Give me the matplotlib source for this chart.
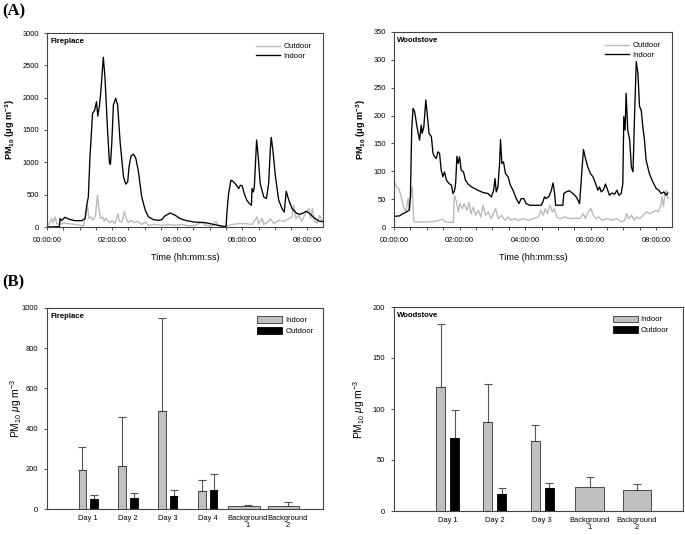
import matplotlib
matplotlib.use("Agg")
import matplotlib.pyplot as plt
from matplotlib.ticker import MultipleLocator, FuncFormatter
from matplotlib.patches import Patch

plt.rcParams['font.family'] = ['Liberation Sans', 'DejaVu Sans']
plt.rcParams['mathtext.fontset'] = 'custom'
plt.rcParams['mathtext.rm'] = 'Liberation Sans'
plt.rcParams['mathtext.bf'] = 'Liberation Sans:bold'
plt.rcParams['mathtext.it'] = 'Liberation Sans:italic'

# ---------------- (A) time series data (hours, PM10 ug/m3) ----------------
fp_in_t = [0, 0.38, 0.40, 0.45, 0.55, 0.71, 0.86, 1.07, 1.17, 1.22, 1.27, 1.32, 1.40,
           1.46, 1.52, 1.56, 1.61, 1.65, 1.73, 1.78, 1.86, 1.92, 1.95, 1.99, 2.04, 2.11,
           2.17, 2.25, 2.35, 2.42, 2.48, 2.52, 2.58, 2.66, 2.73, 2.81, 2.91, 3.02, 3.12,
           3.27, 3.43, 3.53, 3.61, 3.78, 3.94, 4.09, 4.25, 4.50, 4.86, 5.12, 5.45, 5.50,
           5.53, 5.58, 5.65, 5.73, 5.82, 5.89, 5.94, 6.00, 6.06, 6.14, 6.22, 6.28, 6.30,
           6.34, 6.37, 6.44, 6.49, 6.55, 6.66, 6.74, 6.81, 6.86, 6.89, 6.94, 7.02, 7.12,
           7.22, 7.29, 7.35, 7.43, 7.53, 7.68, 7.78, 7.87, 7.97, 8.05, 8.20, 8.35, 8.52]
fp_in_v = [0, 5, 130, 100, 150, 115, 98, 98, 130, 336, 465, 1085, 1757,
           1798, 1938, 1715, 1870, 2067, 2625, 2325, 1500, 982, 970, 1292, 1886, 1990,
           1886, 1292, 775, 662, 698, 930, 1096, 1127, 1060, 853, 465, 258, 155,
           114, 103, 114, 165, 217, 181, 130, 103, 78, 67, 40, 5, 5,
           233, 517, 724, 700, 646, 595, 646, 635, 517, 414, 362, 336, 595,
           543, 620, 1344, 1085, 672, 465, 440, 672, 1189, 1385, 1189, 775, 414,
           285, 233, 553, 414, 285, 207, 197, 217, 243, 217, 145, 93, 78]

fp_out_t = [0.0, 0.04, 0.14, 0.19, 0.25, 0.30, 0.40, 0.50, 0.66, 0.86, 1.02, 1.12, 1.19,
            1.24, 1.29, 1.35, 1.42, 1.49, 1.55, 1.60, 1.65, 1.71, 1.76, 1.81, 1.87, 1.94,
            2.00, 2.09, 2.18, 2.22, 2.30, 2.38, 2.43, 2.50, 2.58, 2.69, 2.79, 2.91, 3.02,
            3.12, 3.32, 3.53, 3.73, 3.94, 4.14, 4.35, 4.55, 4.76, 4.86, 5.07, 5.19, 5.27,
            5.53, 5.68, 5.89, 6.09, 6.30, 6.45, 6.50, 6.61, 6.66, 6.81, 6.86, 6.97, 7.12,
            7.28, 7.43, 7.53, 7.58, 7.65, 7.74, 7.82, 7.89, 7.96, 8.05, 8.10, 8.15, 8.23,
            8.30, 8.38, 8.46]
fp_out_v = [20, 26, 130, 66, 155, 52, 40, 62, 52, 40, 26, 16, 181,
            336, 130, 155, 103, 181, 491, 258, 130, 155, 88, 140, 88, 66,
            103, 52, 207, 88, 77, 243, 130, 66, 103, 66, 88, 40, 77,
            26, 40, 26, 40, 26, 40, 16, 26, 77, 26, 16, 88, 16,
            16, 40, 52, 52, 40, 155, 52, 130, 40, 88, 130, 52, 103,
            88, 130, 155, 336, 130, 181, 88, 155, 233, 284, 130, 284, 77,
            66, 181, 88]

ws_in_t = [0.0, 0.17, 0.27, 0.38, 0.46, 0.50, 0.54, 0.58, 0.63, 0.70, 0.78, 0.83, 0.86,
           0.91, 0.97, 1.00, 1.07, 1.14, 1.19, 1.24, 1.29, 1.34, 1.39, 1.44, 1.49, 1.54,
           1.60, 1.68, 1.75, 1.80, 1.85, 1.88, 1.92, 1.96, 2.00, 2.05, 2.12, 2.18, 2.26,
           2.36, 2.46, 2.56, 2.71, 2.87, 2.97, 3.04, 3.08, 3.12, 3.17, 3.22, 3.25, 3.29,
           3.34, 3.40, 3.48, 3.55, 3.63, 3.73, 3.81, 3.88, 3.96, 4.03, 4.14, 4.49, 4.54,
           4.59, 4.64, 4.73, 4.80, 4.85, 4.90, 4.93, 5.15, 5.18, 5.25, 5.35, 5.46, 5.56,
           5.66, 5.69, 5.74, 5.78, 5.84, 5.91, 5.99, 6.07, 6.15, 6.22, 6.27, 6.32, 6.39,
           6.45, 6.52, 6.57, 6.65, 6.73, 6.80, 6.86, 6.93, 6.98, 7.01, 7.05, 7.08, 7.13,
           7.19, 7.24, 7.29, 7.34, 7.39, 7.44, 7.49, 7.54, 7.59, 7.64, 7.69, 7.74, 7.79,
           7.85, 7.92, 8.00, 8.08, 8.15, 8.23, 8.30, 8.35]
ws_in_v = [19, 20, 24, 27, 30, 54, 174, 213, 207, 180, 156, 183, 168,
           180, 228, 210, 168, 162, 132, 126, 123, 135, 132, 102, 90, 99,
           84, 78, 75, 60, 66, 78, 127, 114, 126, 102, 99, 84, 77,
           72, 69, 66, 62, 60, 54, 66, 87, 63, 72, 114, 157, 114,
           117, 96, 90, 75, 66, 51, 42, 51, 51, 42, 39, 39, 45,
           54, 51, 55, 66, 79, 60, 39, 39, 60, 63, 65, 60, 54,
           42, 66, 108, 139, 123, 108, 96, 90, 78, 66, 72, 63, 67,
           77, 66, 57, 61, 59, 66, 57, 60, 78, 198, 174, 240, 174,
           156, 108, 99, 204, 297, 276, 216, 210, 180, 156, 120, 108, 96,
           87, 78, 69, 66, 60, 63, 57, 61]

ws_out_t = [0.0, 0.07, 0.15, 0.22, 0.29, 0.36, 0.43, 0.48, 0.53, 0.56, 0.60, 0.63, 0.69,
            0.95, 1.25, 1.50, 1.55, 1.81, 1.84, 1.91, 1.96, 2.01, 2.08, 2.14, 2.22, 2.29,
            2.35, 2.42, 2.49, 2.57, 2.65, 2.72, 2.79, 2.88, 2.96, 3.03, 3.10, 3.18, 3.28,
            3.38, 3.49, 3.57, 3.67, 3.79, 3.94, 4.10, 4.25, 4.40, 4.48, 4.55, 4.62, 4.68,
            4.76, 4.83, 4.89, 4.96, 5.06, 5.21, 5.37, 5.52, 5.67, 5.77, 5.84, 5.92, 6.01,
            6.08, 6.15, 6.25, 6.35, 6.48, 6.64, 6.79, 6.94, 7.04, 7.09, 7.16, 7.25, 7.33,
            7.40, 7.49, 7.60, 7.70, 7.80, 7.91, 8.01, 8.06, 8.14, 8.18, 8.22, 8.26, 8.31,
            8.36]
ws_out_v = [84, 72, 69, 54, 36, 27, 51, 30, 66, 72, 12, 9, 9,
            9, 10, 14, 9, 8, 57, 45, 27, 42, 33, 42, 30, 44,
            24, 36, 21, 30, 18, 39, 21, 27, 15, 24, 33, 15, 21,
            12, 18, 12, 15, 12, 15, 12, 15, 18, 30, 21, 33, 24,
            39, 27, 33, 18, 15, 18, 15, 16, 15, 24, 15, 27, 33,
            21, 15, 18, 12, 15, 12, 15, 9, 12, 24, 15, 21, 12,
            18, 15, 21, 27, 24, 27, 30, 27, 39, 54, 36, 57, 66,
            51]

# ---------------- (B) bar data ----------------
fp_cats = ["Day 1", "Day 2", "Day 3", "Day 4", "Background\n1", "Background\n2"]
fp_indoor = [195, 213, 490, 88, 15, 17]
fp_indoor_err = [113, 247, 458, 57, 7, 16]
fp_outdoor = [50, 55, 63, 95]
fp_outdoor_err = [18, 27, 34, 77]

ws_cats = ["Day 1", "Day 2", "Day 3", "Background\n1", "Background\n2"]
ws_indoor = [122, 87, 69, 24, 21]
ws_indoor_err = [61, 38, 15, 9, 5]
ws_outdoor = [72, 17, 23]
ws_outdoor_err = [27, 6, 4]

# ---------------- figure ----------------
W, H = 685, 535
fig = plt.figure(figsize=(W / 100, H / 100), dpi=100)

def ax_px(x0, y0, x1, y1):
    return fig.add_axes([x0 / W, 1 - y1 / H, (x1 - x0) / W, (y1 - y0) / H])

SPINE = '#444444'
GRAY = '#b8b8b8'
TICK_FS = 5.4

def style(ax):
    for s in ['top', 'right', 'bottom', 'left']:
        ax.spines[s].set_color(SPINE)
        ax.spines[s].set_linewidth(0.8)
    ax.tick_params(direction='out', length=2.5, width=0.6, colors='#333333',
                   labelsize=TICK_FS, labelcolor='black', pad=3)

time_fmt = FuncFormatter(lambda h, pos: f"{int(round(h)):02d}:00:00")

def ts_panel(ax, tin, vin, tout, vout, ymax, ystep, title):
    ax.plot(tout, vout, color=GRAY, lw=0.95, label='Outdoor')
    ax.plot(tin, vin, color='black', lw=0.95, label='Indoor')
    ax.set_xlim(0, 8.48)
    ax.set_ylim(0, ymax)
    ax.xaxis.set_major_locator(MultipleLocator(2))
    ax.xaxis.set_minor_locator(MultipleLocator(0.5))
    ax.xaxis.set_major_formatter(time_fmt)
    ax.yaxis.set_major_locator(MultipleLocator(ystep))
    style(ax)
    ax.tick_params(which='minor', direction='out', length=2.5, width=0.6, colors='#333333')
    ax.tick_params(axis='x', pad=5)
    ax.set_xlabel("Time (hh:mm:ss)", fontsize=6.6, labelpad=6)
    ax.set_ylabel(r"PM$_{\mathbf{10}}$ ($\mathbf{\mu}$g m$^{\mathbf{-3}}$)", fontsize=6.6,
                  fontweight='bold', labelpad=4)
    ax.text(0.012, 0.975, title, transform=ax.transAxes, fontsize=5.6,
            fontweight='bold', va='top', ha='left')
    ax.legend(loc='upper right', frameon=False, fontsize=5.6, handlelength=3.2,
              handletextpad=0.4, labelspacing=0.3, borderaxespad=0.5,
              bbox_to_anchor=(0.985, 0.985))

ax1 = ax_px(47, 33, 323, 227)
ts_panel(ax1, fp_in_t, fp_in_v, fp_out_t, fp_out_v, 3000, 500, "Fireplace")
ax2 = ax_px(394, 32, 672, 227)
ts_panel(ax2, ws_in_t, ws_in_v, ws_out_t, ws_out_v, 350, 50, "Woodstove")

ERR_KW = dict(ecolor='#555555', elinewidth=0.8, capsize=2.6, capthick=0.8)
IN_C = '#c0c0c0'
EDGE = '#333333'

def bar_panel(ax, cats, indoor, indoor_err, outdoor, outdoor_err, ndays,
              bw, off, bg_w, bg_shift, xlim, ymax, ystep, title, leg_anchor, ylab_x):
    idx = list(range(len(cats)))
    day_i = idx[:ndays]
    bg_i = idx[ndays:]
    ax.bar([i - off for i in day_i], indoor[:ndays], width=bw, color=IN_C,
           edgecolor=EDGE, linewidth=0.6, zorder=2)
    ax.errorbar([i - off for i in day_i], indoor[:ndays],
                yerr=[[0] * ndays, indoor_err[:ndays]], fmt='none', zorder=1, **ERR_KW)
    ax.bar([i + off for i in day_i], outdoor, width=bw, color='black',
           edgecolor='black', linewidth=0.6, zorder=2)
    ax.errorbar([i + off for i in day_i], outdoor,
                yerr=[[0] * ndays, outdoor_err], fmt='none', zorder=1, **ERR_KW)
    ax.bar([i + bg_shift for i in bg_i], indoor[ndays:], width=bg_w, color=IN_C,
           edgecolor=EDGE, linewidth=0.6, zorder=2)
    ax.errorbar(bg_i, indoor[ndays:], yerr=[[0] * len(bg_i), indoor_err[ndays:]],
                fmt='none', zorder=1, **ERR_KW)
    ax.set_xlim(*xlim)
    ax.set_ylim(0, ymax)
    ax.set_xticks(idx)
    ax.set_xticklabels(cats, fontsize=TICK_FS, linespacing=1.0)
    ax.yaxis.set_major_locator(MultipleLocator(ystep))
    style(ax)
    ax.tick_params(axis='y', pad=4)
    ax.tick_params(axis='x', length=0, pad=4)
    ax.set_ylabel(r"PM$_{10}$ $\mu$g m$^{-3}$", fontsize=7.4)
    ax.yaxis.set_label_coords(ylab_x, 0.5)
    ax.text(0.012, 0.975, title, transform=ax.transAxes, fontsize=5.6,
            fontweight='bold', va='top', ha='left')
    handles = [Patch(facecolor=IN_C, edgecolor=EDGE, linewidth=0.6, label='Indoor'),
               Patch(facecolor='black', edgecolor='black', linewidth=0.6, label='Outdoor')]
    ax.legend(handles=handles, loc='upper right', frameon=False, fontsize=5.6,
              handlelength=3.2, handleheight=0.9, handletextpad=0.4, labelspacing=0.35,
              bbox_to_anchor=leg_anchor, borderaxespad=0.3)

ax3 = ax_px(47, 308, 323, 509)
bar_panel(ax3, fp_cats, fp_indoor, fp_indoor_err, fp_outdoor, fp_outdoor_err, 4,
          0.19, 0.145, 0.8, -0.1, (-1.03, 5.89), 1000, 200, "Fireplace", (0.985, 0.985),
          -0.085)
ax4 = ax_px(394, 307, 683, 511)
bar_panel(ax4, ws_cats, ws_indoor, ws_indoor_err, ws_outdoor, ws_outdoor_err, 3,
          0.19, 0.148, 0.6, 0.0, (-1.13, 4.97), 200, 50, "Woodstove", (0.97, 0.985),
          -0.095)

fig.text(2 / W, 1 - 3 / H, "(A)", fontsize=12, fontweight='bold',
         family='Liberation Serif', va='top', ha='left')
fig.text(2 / W, 1 - 274 / H, "(B)", fontsize=12, fontweight='bold',
         family='Liberation Serif', va='top', ha='left')

fig.savefig("out.png", dpi=100)
